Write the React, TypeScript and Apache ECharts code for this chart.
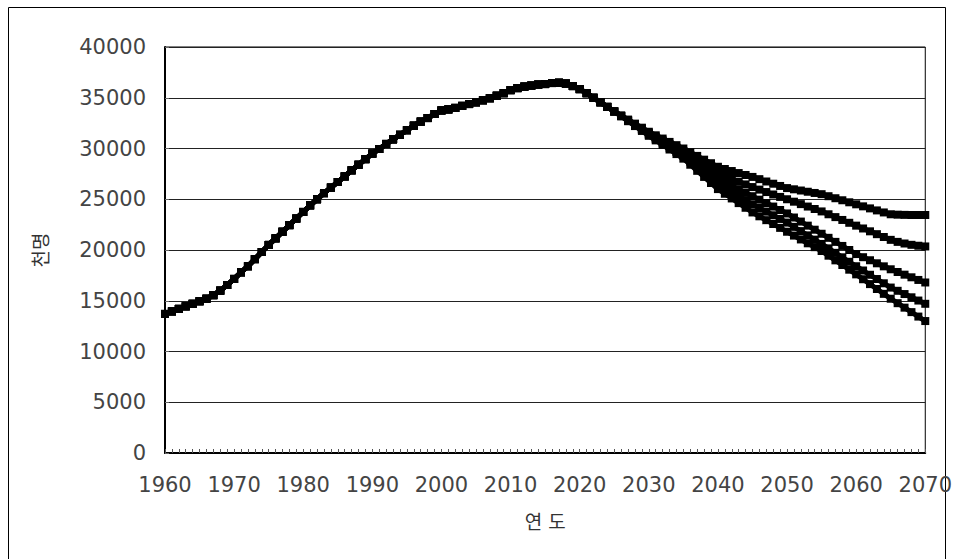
import React, { useEffect, useRef } from "react";
import * as echarts from "echarts";

// Common history 1960-2025 (thousand persons)
const historyYears: number[] = [];
for (let y = 1960; y <= 2025; y++) historyYears.push(y);
const history = [
  13700, 13950, 14200, 14450, 14700, 14950, 15200, 15550, 16000, 16550,
  17150, 17800, 18400, 19100, 19800, 20500, 21150, 21800, 22450, 23100,
  23750, 24400, 25000, 25600, 26150, 26700, 27250, 27850, 28400, 28950,
  29500, 29950, 30450, 30900, 31350, 31800, 32250, 32650, 33000, 33400,
  33750, 33850, 34000, 34200, 34380, 34550, 34750, 34950, 35200, 35450,
  35750, 35950, 36100, 36200, 36300, 36350, 36450, 36480, 36400, 36150,
  35850, 35450, 35000, 34550, 34100, 33650,
];

// Projection years 2026-2070
const projYears: number[] = [];
for (let y = 2026; y <= 2070; y++) projYears.push(y);

const scenario1 = [
  33250, 32850, 32450, 32050, 31650, 31300, 30980, 30650, 30330, 30000,
  29630, 29270, 28900, 28550, 28200, 27980, 27780, 27580, 27390, 27200,
  26980, 26750, 26530, 26310, 26100, 25980, 25860, 25740, 25620, 25500,
  25300, 25100, 24900, 24700, 24500, 24300, 24100, 23900, 23700, 23520,
  23480, 23460, 23450, 23450, 23450,
];
const scenario2 = [
  33230, 32810, 32390, 31970, 31550, 31170, 30800, 30440, 30090, 29750,
  29300, 28860, 28430, 28010, 27600, 27300, 27010, 26730, 26460, 26200,
  25950, 25710, 25470, 25230, 25000, 24760, 24520, 24280, 24040, 23800,
  23520, 23240, 22960, 22680, 22400, 22120, 21840, 21560, 21280, 21000,
  20800, 20640, 20510, 20420, 20350,
];
const scenario3 = [
  33210, 32770, 32330, 31890, 31450, 31050, 30650, 30260, 29880, 29500,
  29000, 28500, 28000, 27500, 27000, 26650, 26310, 25970, 25630, 25300,
  24960, 24620, 24280, 23940, 23600, 23200, 22800, 22400, 22000, 21600,
  21200, 20800, 20400, 20000, 19600, 19290, 18990, 18690, 18390, 18100,
  17830, 17570, 17310, 17050, 16800,
];
const scenario4 = [
  33190, 32730, 32270, 31810, 31350, 30920, 30500, 30080, 29660, 29250,
  28700, 28150, 27600, 27050, 26500, 26100, 25700, 25300, 24900, 24500,
  24140, 23780, 23420, 23060, 22700, 22280, 21860, 21440, 21020, 20600,
  20160, 19720, 19280, 18840, 18400, 17980, 17560, 17140, 16720, 16300,
  15980, 15660, 15340, 15020, 14700,
];
const scenario5 = [
  33170, 32690, 32210, 31730, 31250, 30800, 30350, 29900, 29450, 29000,
  28400, 27800, 27200, 26600, 26000, 25540, 25080, 24620, 24160, 23700,
  23320, 22940, 22560, 22180, 21800, 21420, 21040, 20660, 20280, 19900,
  19440, 18980, 18520, 18060, 17600, 17120, 16640, 16160, 15680, 15200,
  14760, 14320, 13880, 13440, 13000,
];
const scenarios = [scenario1, scenario2, scenario3, scenario4, scenario5];

const FONT = "'DejaVu Sans', 'Noto Sans CJK KR', sans-serif";

export default function App() {
  const ref = useRef<HTMLDivElement>(null);
  useEffect(() => {
    if (!ref.current) return;
    const chart = echarts.init(ref.current, undefined, { renderer: "svg" });
    const hist = historyYears.map((y, i) => [y, history[i]]);
    const series = scenarios.map((s, k) => ({
      type: "line",
      name: "s" + (k + 1),
      data: hist.concat(projYears.map((y, i) => [y, s[i]])),
      symbol: "rect",
      symbolSize: 8,
      showAllSymbol: true,
      itemStyle: { color: "#000" },
      lineStyle: { color: "#000", width: 5 },
      z: 3,
    }));
    chart.setOption({
      animation: false,
      backgroundColor: "#fff",
      grid: {
        left: 165,
        right: 28,
        top: 47,
        bottom: 106,
        show: true,
        borderColor: "#000",
        borderWidth: 1,
      },
      xAxis: {
        type: "value",
        min: 1960,
        max: 2070,
        interval: 10,
        name: "연 도",
        nameLocation: "middle",
        nameGap: 59,
        nameTextStyle: { fontSize: 19, color: "#333", fontFamily: FONT },
        axisLine: { show: true, lineStyle: { color: "#000", width: 2 } },
        axisTick: { show: true, inside: true, length: 4, lineStyle: { color: "#555" } },
        minorTick: { show: true, splitNumber: 10, length: 4, lineStyle: { color: "#555" } },
        splitLine: { show: false },
        axisLabel: {
          fontSize: 21,
          color: "#444",
          margin: 21,
          fontFamily: FONT,
          formatter: (v: number) => String(v),
        },
      },
      yAxis: {
        type: "value",
        min: 0,
        max: 40000,
        interval: 5000,
        name: "천명",
        nameLocation: "middle",
        nameRotate: 90,
        nameGap: 115,
        nameTextStyle: { fontSize: 19, color: "#333", fontFamily: FONT },
        axisLine: { show: true, lineStyle: { color: "#000", width: 2 } },
        axisTick: { show: true, inside: true, length: 4, lineStyle: { color: "#666" } },
        splitLine: { show: true, lineStyle: { color: "#222", width: 1 } },
        axisLabel: {
          fontSize: 21,
          color: "#444",
          margin: 19,
          fontFamily: FONT,
          formatter: (v: number) => String(v),
        },
      },
      graphic: [
        {
          type: "rect",
          shape: { x: 8.5, y: 7.5, width: 937, height: 600 },
          style: { fill: "none", stroke: "#000", lineWidth: 1 },
          silent: true,
        },
      ],
      series,
    });
    return () => chart.dispose();
  }, []);
  return (
    <div
      ref={ref}
      style={{ position: "absolute", left: 0, top: 0, width: 955, height: 559 }}
    />
  );
}
